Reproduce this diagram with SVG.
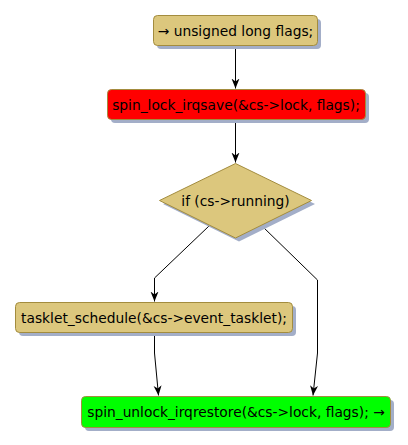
<svg xmlns="http://www.w3.org/2000/svg" width="408" height="445" viewBox="0 0 408 445">
<defs>
<style>
.n{stroke:#A38C3E;stroke-width:1}
.k{fill:#DCC77D}
.sh{fill:#A3AEC8}
.t{font-family:"DejaVu Sans",sans-serif;font-size:13.8px;fill:#000}
.c{fill:none;stroke:#000;stroke-width:1}
</style>
<marker id="ah" viewBox="0 0 10 10" refX="10" refY="5" markerWidth="10" markerHeight="10" markerUnits="userSpaceOnUse" orient="auto">
<path d="M0,1 L10,5 L0,9 L3,5 Z" fill="#000"/>
</marker>
</defs>
<rect width="408" height="445" fill="#fff"/>
<g id="connectors">
<path class="c" d="M235.5,45.5 V88.5" marker-end="url(#ah)"/>
<path class="c" d="M235.5,119.5 V162.5" marker-end="url(#ah)"/>
<path class="c" d="M209,226 L154.5,278 V301.5" marker-end="url(#ah)"/>
<path class="c" d="M262,226 L317.5,280 V353 L313,395.5" marker-end="url(#ah)"/>
<path class="c" d="M154.5,333 V353 L158.5,395.5" marker-end="url(#ah)"/>
</g>
<g id="n1">
<rect class="sh" x="157" y="19" width="164" height="30" rx="4"/>
<rect class="n k" x="153.5" y="15.5" width="164" height="30" rx="4"/>
<text class="t" x="235.5" y="35.5" text-anchor="middle">→ unsigned long flags;</text>
</g>
<g id="n2">
<rect class="sh" x="111" y="93" width="258" height="30" rx="4"/>
<rect class="n" fill="#FF0000" x="107.5" y="89.5" width="258" height="30" rx="4"/>
<text class="t" x="236" y="109.5" text-anchor="middle">spin_lock_irqsave(&amp;cs-&gt;lock, flags);</text>
</g>
<g id="n3">
<polygon class="sh" points="239,167 315,204 239,241.5 163,204"/>
<polygon class="n k" points="235.5,163.5 311.5,200.5 235.5,238 159.5,200.5"/>
<text class="t" x="235.5" y="205.5" text-anchor="middle">if (cs-&gt;running)</text>
</g>
<g id="n4">
<rect class="sh" x="19" y="306" width="277" height="30" rx="4"/>
<rect class="n k" x="15.5" y="302.5" width="277" height="30" rx="4"/>
<text class="t" x="154" y="322.5" text-anchor="middle">tasklet_schedule(&amp;cs-&gt;event_tasklet);</text>
</g>
<g id="n5">
<rect class="sh" x="85" y="400" width="309" height="31" rx="4"/>
<rect class="n" fill="#00FF00" x="81.5" y="396.5" width="309" height="31" rx="4"/>
<text class="t" x="236" y="417" text-anchor="middle">spin_unlock_irqrestore(&amp;cs-&gt;lock, flags); →</text>
</g>
</svg>
